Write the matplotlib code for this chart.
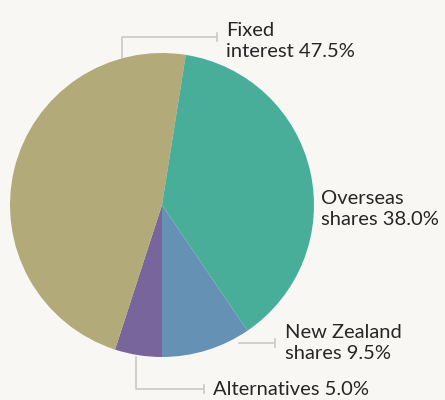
import matplotlib.pyplot as plt

# data, clockwise from the bottom of the pie
labels = ['Alternatives', 'Fixed\ninterest', 'Overseas\nshares', 'New Zealand\nshares']
values = [5.0, 47.5, 38.0, 9.5]
colors = ['#77659c', '#b2aa78', '#48ae99', '#6491b4']

bg = '#f8f7f4'
line_col = '#c9c9c9'
W, H = 445, 400

plt.rcParams['font.family'] = ['Lato', 'DejaVu Sans']

fig = plt.figure(figsize=(W / 100, H / 100), dpi=100, facecolor=bg)
ax = fig.add_axes([0, 0, 1, 1])
ax.set_facecolor(bg)

cx, cy, r = 162, H - 205, 152
ax.pie(values, colors=colors, startangle=270, counterclock=False,
       center=(cx, cy), radius=r, frame=True,
       wedgeprops=dict(linewidth=0))
ax.set_xlim(0, W)
ax.set_ylim(0, H)
ax.set_aspect('equal')
ax.axis('off')

def Y(py):
    return H - py

# leader lines
def leader(xs, ys, tick_x, tick_y):
    ax.plot(xs, [Y(v) for v in ys], color=line_col, lw=1.2, solid_capstyle='butt')
    ax.plot([tick_x, tick_x], [Y(tick_y - 4), Y(tick_y + 4)], color=line_col, lw=1.2)

leader([122, 122, 217], [58, 37, 37], 217, 37)
leader([238, 275], [343, 343], 275, 343)
leader([136, 136, 204], [356, 389, 389], 204, 389)

fs = 14.5
txt = dict(fontsize=fs, color='#262626', ha='left', va='baseline', linespacing=1.32)
ax.text(226, Y(57), 'Fixed\ninterest %.1f%%' % values[1], **txt)
ax.text(321, Y(225), 'Overseas\nshares %.1f%%' % values[2], **txt)
ax.text(285, Y(359), 'New Zealand\nshares %.1f%%' % values[3], **txt)
ax.text(213, Y(395), 'Alternatives %.1f%%' % values[0], **txt)

fig.savefig('out.png', dpi=100, facecolor=bg)
